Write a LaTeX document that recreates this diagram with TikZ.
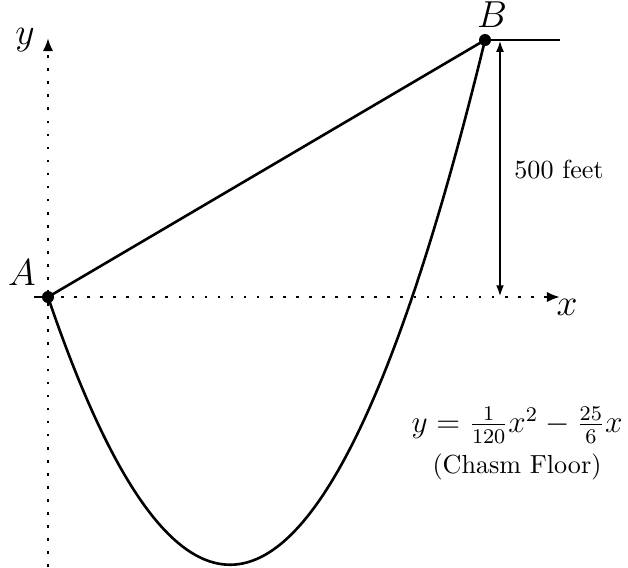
\documentclass[tikz,border=0pt]{standalone}
\usetikzlibrary{arrows.meta}
\begin{document}
\begin{tikzpicture}[x=0.383pt,y=-0.383pt,
  curve/.style={line width=1pt},
  axisline/.style={line width=1.1pt,dash pattern=on 1pt off 4pt,-{Latex[length=5pt,width=4pt]}},
  dimarrow/.style={line width=1pt,{Latex[length=4.5pt,width=3pt]}-{Latex[length=4.5pt,width=3pt]}},
  pt/.style={circle,fill=black,inner sep=0pt,minimum size=4.6pt},
  lab/.style={font=\Large,inner sep=1pt}]
\useasboundingbox (0,0) rectangle (628,567);
% axes
\coordinate (ybot) at (48,567);
\coordinate (ytop) at (48,38);
\coordinate (xleft) at (48,297);
\coordinate (xright) at (560,297);
\coordinate (xtick) at (34,297);
\draw[axisline] (ybot) -- (ytop);
\draw[axisline] (xleft) -- (xright);
\draw[curve] (xtick) -- (xleft);
\node[lab] (ylab) at (25,40) {$y$};
\node[lab] (xlab) at (567,307) {$x$};
% points
\node[pt] (A) at (48,297) {};
\node[pt] (B) at (485,40) {};
\node[lab] (Alab) at (22,273) {$A$};
\node[lab] (Blab) at (492,15) {$B$};
% chord
\draw[curve] (A.center) -- (B.center);
% parabola
\draw[curve] plot[domain=0:600,samples=150,smooth] ({48+0.72833*\x},{297-0.514*(\x/120*\x-25/6*\x)});
% top ledge
\coordinate (ledge) at (560,40);
\draw[curve] (B.center) -- (ledge);
% dimension
\coordinate (dtop) at (500,40);
\coordinate (dbot) at (500,297);
\draw[dimarrow] (dtop) -- (dbot);
\node (dimlab) at (559,170) {500 feet};
% equation
\node[inner sep=0pt,font=\large] (eq) at (517,425) {$y=\frac{1}{120}x^2-\frac{25}{6}x$};
\node[inner sep=0pt] (floor) at (517,467) {(Chasm Floor)};
\end{tikzpicture}
\end{document}
